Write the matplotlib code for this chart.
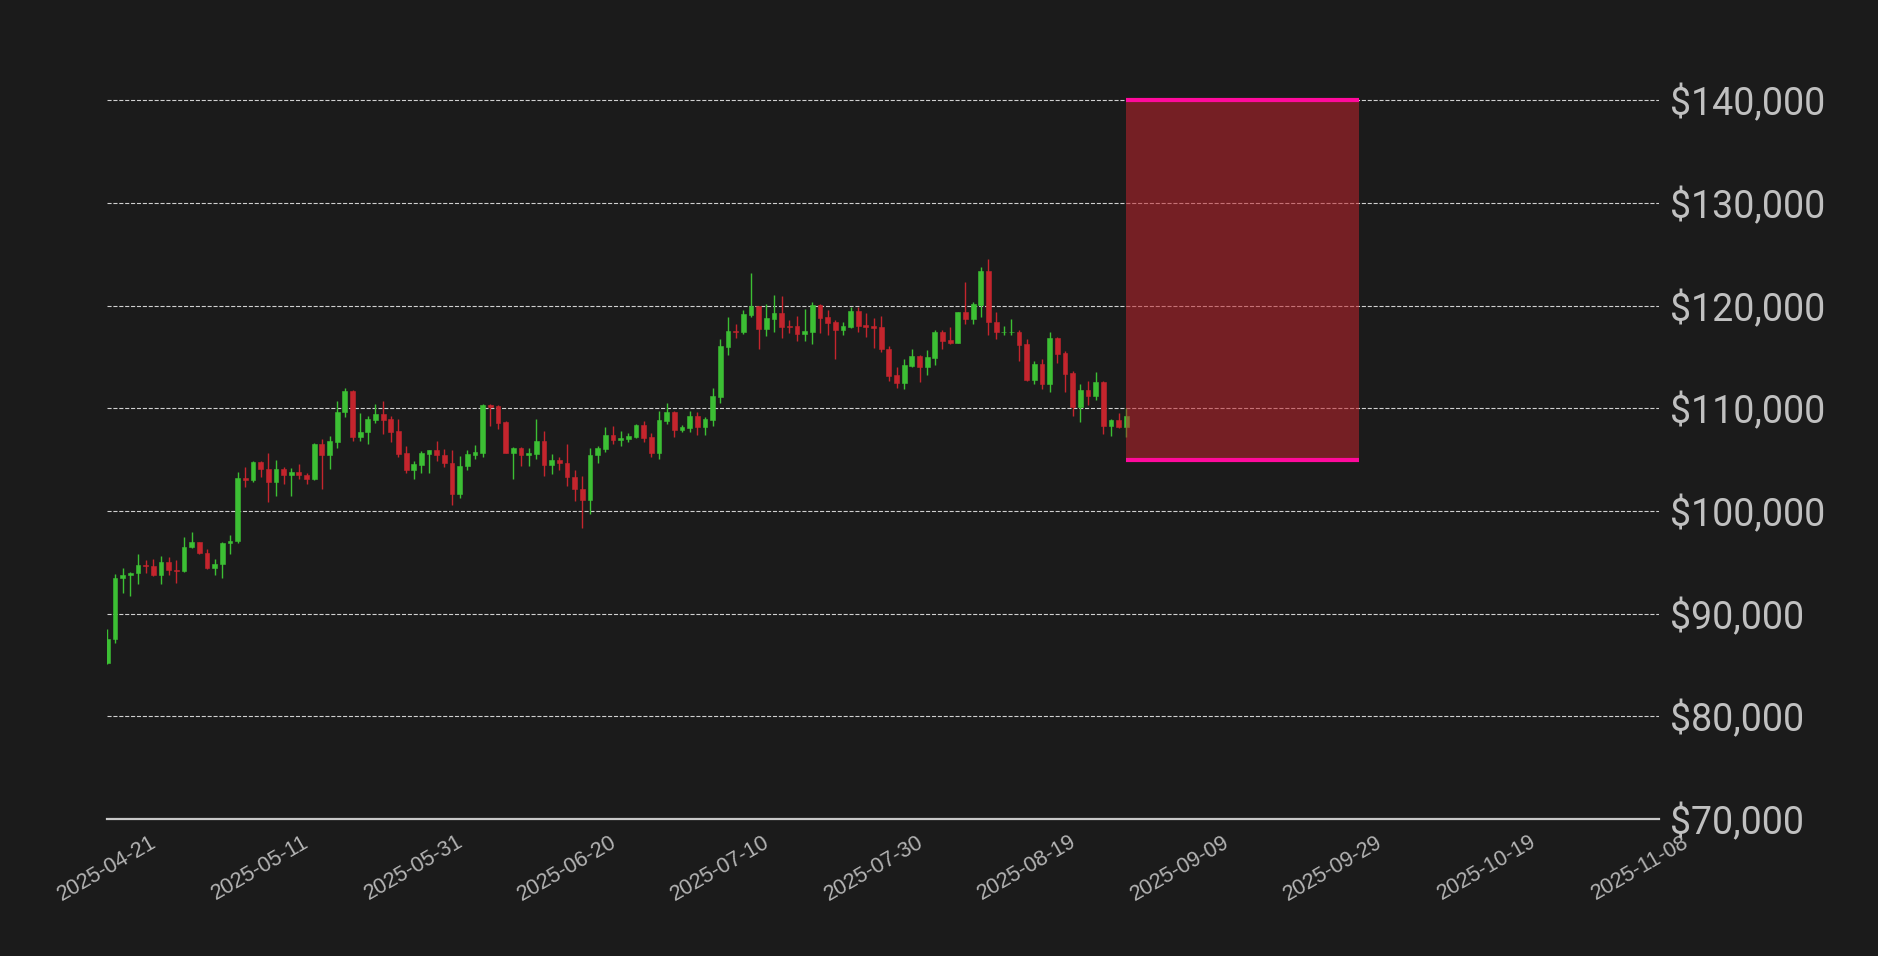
import numpy as np
import matplotlib
matplotlib.use("Agg")
import matplotlib.pyplot as plt
from matplotlib.patches import Rectangle
from matplotlib.ticker import FuncFormatter

# daily candles, 2025-04-21 .. 2025-09-01
opens = [85180, 87540, 93460, 93760, 93950, 94760, 94660, 93760, 95050, 94270,
         94140, 96510, 96990, 95920, 94440, 94820, 96860, 97060, 103200, 102980,
         104760, 104080, 102780, 104080, 103460, 103790, 103500, 103080, 106500, 105500,
         106760, 109610, 111650, 107250, 107670, 108900, 109420, 108930, 107800, 105660,
         103950, 104530, 105600, 105960, 105470, 104690, 101620, 104340, 105500, 105700,
         110290, 110190, 108640, 105700, 106120, 105410, 105600, 106830, 104530, 104980,
         104690, 103330, 102170, 101040, 105410, 106080, 107410, 106930, 107060, 107250,
         108420, 107250, 105690, 108810, 109690, 107940, 108130, 109300, 108230, 108910,
         111150, 115940, 117500, 117400, 119060, 119940, 117690, 118670, 119250, 117980,
         117980, 117200, 117400, 120030, 118860, 118370, 117590, 117890, 119450, 118080,
         117980, 117890, 115820, 113270, 112480, 114150, 115130, 114050, 114940, 117480,
         116700, 116410, 119350, 118660, 120030, 123370, 118460, 117390, 117390, 117480,
         116310, 112780, 114350, 112390, 116900, 115430, 113460, 110130, 111800, 111210,
         112580, 108270, 108860, 108170]
highs = [88480, 93885, 94470, 94080, 95860, 95240, 95340, 95630, 95540, 95240,
         97480, 97960, 97000, 96310, 95340, 96990, 97700, 103790, 104270, 104860,
         104860, 105630, 104980, 104270, 104180, 104600, 103690, 106600, 106990, 107280,
         110680, 111940, 111750, 109550, 109220, 110420, 110710, 109260, 108970, 106340,
         104890, 105860, 105960, 106830, 106050, 105960, 105340, 105960, 106440, 110390,
         110390, 110290, 108740, 106210, 106210, 106120, 108970, 107800, 105570, 105280,
         106540, 104010, 103430, 106150, 106340, 108190, 108290, 107800, 107640, 108520,
         108810, 107640, 109790, 110570, 109790, 108420, 109790, 109690, 109200, 112030,
         116720, 118860, 118180, 119550, 123150, 120000, 120130, 121010, 120910, 118570,
         118960, 119640, 120330, 120130, 119550, 118570, 118370, 119840, 119840, 119250,
         118760, 118960, 116110, 114050, 114840, 115820, 115150, 115720, 117680, 117680,
         117970, 119350, 122290, 120330, 123760, 124540, 119350, 118070, 118660, 117680,
         116800, 114640, 114840, 117480, 116990, 115620, 113660, 112390, 112680, 113560,
         112680, 108950, 109540, 110030]
lows = [85080, 87150, 92010, 91720, 92880, 93950, 93660, 92880, 93760, 92980,
        94100, 96380, 95830, 94340, 93760, 93460, 95790, 96860, 102300, 102780,
        103270, 100840, 101430, 102590, 101430, 103080, 102590, 103000, 102100, 104140,
        106120, 109190, 106860, 106860, 106570, 108610, 107540, 106760, 105310, 103660,
        103080, 103750, 103660, 104920, 104240, 100550, 101230, 103950, 105020, 105310,
        108320, 108030, 105650, 103080, 104340, 104430, 105020, 103370, 103560, 103950,
        102400, 100940, 98320, 99680, 104630, 105790, 106570, 106340, 106760, 107160,
        106760, 105300, 105110, 108520, 107250, 107740, 107740, 107450, 107450, 108330,
        110570, 115150, 116810, 117200, 118860, 115740, 117010, 117400, 116810, 117300,
        116520, 116520, 116230, 117300, 117110, 114760, 117110, 117790, 117400, 116910,
        115840, 115450, 112680, 111990, 111900, 114050, 112580, 113270, 114250, 115820,
        116310, 116400, 118170, 118170, 118860, 117190, 116800, 117190, 117190, 114640,
        112680, 112390, 111900, 111600, 114440, 111600, 109250, 108660, 110330, 110820,
        107480, 107290, 108070, 107190]
closes = [87575, 93500, 93790, 93980, 94760, 94630, 93760, 95050, 94240, 94140,
          96510, 96990, 95890, 94440, 94860, 96890, 97090, 103200, 102980, 104760,
          104050, 102780, 104080, 103460, 103790, 103460, 103080, 106500, 105500, 106800,
          109610, 111650, 107250, 107670, 108930, 109420, 108900, 107740, 105600, 103950,
          104600, 105660, 105960, 105410, 104630, 101620, 104400, 105570, 105760, 110290,
          110160, 108610, 105700, 106120, 105410, 105630, 106830, 104530, 104950, 104630,
          103270, 102100, 101040, 105470, 106150, 107410, 106930, 107120, 107300, 108420,
          107160, 105690, 108910, 109690, 107940, 108230, 109300, 108230, 109010, 111250,
          116030, 117500, 117400, 119150, 119940, 117690, 118760, 119250, 117890, 117890,
          117200, 117500, 120030, 118760, 118280, 117590, 117980, 119450, 117980, 117890,
          117790, 115740, 113170, 112480, 114250, 115130, 114050, 115030, 117480, 116600,
          116410, 119350, 118660, 120130, 123370, 118370, 117390, 117480, 117480, 116210,
          112780, 114350, 112390, 116900, 115330, 113370, 110130, 111800, 111210, 112580,
          108270, 108860, 108170, 109250]

tick_pos = [0, 20, 40, 60, 80, 100, 120, 140, 160, 180, 200]
tick_labels = ['2025-04-21', '2025-05-11', '2025-05-31', '2025-06-20', '2025-07-10',
               '2025-07-30', '2025-08-19', '2025-09-09', '2025-09-29', '2025-10-19',
               '2025-11-08']
y_ticks = [70000, 80000, 90000, 100000, 110000, 120000, 130000, 140000]

zone_start, zone_days = 133, 30.3
zone_low, zone_high = 105000, 140000

bg = '#1b1b1b'
up_col = '#3cbf34'
down_col = '#c4252d'

o = np.array(opens)
h = np.array(highs)
l = np.array(lows)
c = np.array(closes)
x = np.arange(len(o))
up = c >= o
cols = np.where(up, up_col, down_col)

fig = plt.figure(figsize=(18.78, 9.56), dpi=100, facecolor=bg)
ax = fig.add_axes([0.05714, 0.1433, 0.8262, 0.8054])
ax.set_facecolor(bg)

ax.vlines(x, l, h, colors=cols, linewidth=1.0, zorder=3)
ax.bar(x, np.maximum(np.abs(c - o), 60), bottom=np.minimum(o, c), width=0.62,
       color=cols, edgecolor=cols, linewidth=0.4, zorder=3)

ax.add_patch(Rectangle((zone_start, zone_low), zone_days, zone_high - zone_low,
                       facecolor='#c0242c', alpha=0.55, edgecolor='none', zorder=4))
ax.hlines([zone_low, zone_high], zone_start, zone_start + zone_days,
          colors='#ff0a9c', linewidth=3, zorder=5)

ax.set_xlim(0, 202.5)
ax.set_ylim(70000, 145000)
ax.set_yticks(y_ticks)
ax.yaxis.set_major_formatter(FuncFormatter(lambda v, p: '${:,.0f}'.format(v)))
ax.yaxis.tick_right()
ax.grid(axis='y', linestyle='--', linewidth=0.8, color='#d0d0d0', zorder=1)
ax.set_axisbelow(True)

ax.set_xticks(tick_pos)
ax.set_xticklabels(tick_labels, rotation=30, ha='center')

for s in ['top', 'left', 'right']:
    ax.spines[s].set_visible(False)
ax.spines['bottom'].set_color('#c8c8c8')
ax.spines['bottom'].set_linewidth(1.6)

ax.tick_params(axis='y', length=0, pad=8, labelsize=27, labelcolor='#c0c0c0')
ax.tick_params(axis='x', length=0, pad=9, labelsize=15.5, labelcolor='#b4b4b4')
for t in ax.get_yticklabels():
    t.set_fontfamily('Roboto')
for t in ax.get_xticklabels():
    t.set_fontfamily('Liberation Sans')

fig.savefig('out.png', dpi=100, facecolor=bg)
